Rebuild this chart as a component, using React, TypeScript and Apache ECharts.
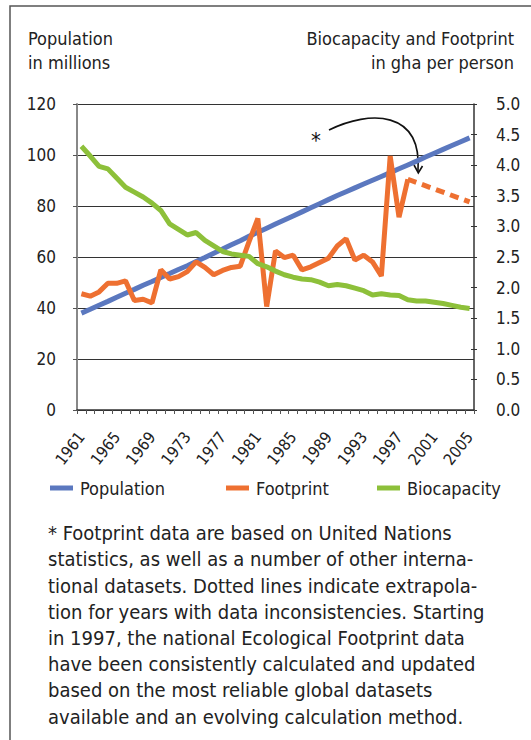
import React, { useEffect, useRef } from "react";
import * as echarts from "echarts";

const years = [
  "1961", "1962", "1963", "1964", "1965", "1966", "1967", "1968", "1969", "1970",
  "1971", "1972", "1973", "1974", "1975", "1976", "1977", "1978", "1979", "1980",
  "1981", "1982", "1983", "1984", "1985", "1986", "1987", "1988", "1989", "1990",
  "1991", "1992", "1993", "1994", "1995", "1996", "1997", "1998", "1999", "2000",
  "2001", "2002", "2003", "2004", "2005",
];

// Population in millions (left axis)
const population = [
  38.0, 39.5, 41.1, 42.6, 44.2, 45.8, 47.3, 48.9, 50.4, 52.0,
  53.5, 55.1, 56.6, 58.2, 59.8, 61.5, 63.1, 64.8, 66.4, 68.1,
  69.7, 71.3, 72.9, 74.5, 76.1, 77.7, 79.3, 80.9, 82.5, 84.1,
  85.6, 87.1, 88.6, 90.1, 91.6, 93.1, 94.6, 96.1, 97.6, 99.2,
  100.7, 102.2, 103.7, 105.2, 106.7,
];

// Footprint, gha per person (right axis), 1961-1998
const footprint = [
  1.90, 1.86, 1.93, 2.07, 2.07, 2.11, 1.79, 1.81, 1.75, 2.29,
  2.14, 2.18, 2.26, 2.42, 2.33, 2.21, 2.28, 2.33, 2.35, 2.75,
  3.13, 1.69, 2.60, 2.49, 2.53, 2.29, 2.34, 2.41, 2.48, 2.68,
  2.80, 2.45, 2.53, 2.42, 2.19, 4.15, 3.15, 3.77,
];

// Extrapolated footprint (dotted)
const footprintExtrapYears = ["1998", "2005"];
const footprintExtrapValues = [3.77, 3.40];

// Biocapacity, gha per person (right axis)
const biocapacity = [
  4.31, 4.15, 3.98, 3.94, 3.79, 3.64, 3.56, 3.48, 3.38, 3.26,
  3.04, 2.95, 2.86, 2.90, 2.77, 2.68, 2.59, 2.55, 2.53, 2.51,
  2.39, 2.34, 2.27, 2.21, 2.17, 2.14, 2.13, 2.09, 2.03, 2.05,
  2.03, 1.99, 1.95, 1.88, 1.90, 1.88, 1.87, 1.80, 1.78, 1.78,
  1.76, 1.74, 1.71, 1.68, 1.66,
];

const leftTicks = { min: 0, max: 120, interval: 20 };
const rightTicks = { min: 0, max: 5, interval: 0.5 };

const footnote =
  "* Footprint data are based on United Nations\n" +
  "statistics, as well as a number of other interna-\n" +
  "tional datasets. Dotted lines indicate extrapola-\n" +
  "tion for years with data inconsistencies. Starting\n" +
  "in 1997, the national Ecological Footprint data\n" +
  "have been consistently calculated and updated\n" +
  "based on the most reliable global datasets\n" +
  "available and an evolving calculation method.";

const FONT = "'DejaVu Sans Condensed', 'DejaVu Sans', sans-serif";
const BLUE = "#5B78BF";
const ORANGE = "#EE7031";
const GREEN = "#8DC03A";
const TEXT = "#222";

export default function App() {
  const ref = useRef<HTMLDivElement>(null);

  useEffect(() => {
    if (!ref.current) return;
    const chart = echarts.init(ref.current, undefined, { renderer: "svg" });

    const footprintData = years.map((_, i) => (i < footprint.length ? footprint[i] : null));
    const extrapData = years.map((y) => {
      const k = footprintExtrapYears.indexOf(y);
      return k >= 0 ? footprintExtrapValues[k] : null;
    });

    const legendBase = {
      top: 479,
      padding: 0,
      icon: "rect",
      itemWidth: 23,
      itemHeight: 5,
      itemGap: 0,
      textStyle: { fontSize: 18, color: TEXT, fontFamily: FONT, padding: [0, 0, 0, 2] },
      selectedMode: false,
    };

    chart.setOption({
      animation: false,
      backgroundColor: "#fff",
      textStyle: { fontFamily: FONT },
      grid: { left: 77, right: 57, top: 104, bottom: 330, containLabel: false },
      xAxis: {
        type: "category",
        data: years,
        boundaryGap: true,
        axisLine: { lineStyle: { color: "#333", width: 1.5 } },
        axisTick: { show: true, interval: 0, length: 4, lineStyle: { color: "#555" } },
        axisLabel: {
          interval: 3,
          rotate: 52,
          fontSize: 16,
          color: TEXT,
          margin: 24,
          fontFamily: FONT,
        },
        splitLine: { show: false },
      },
      yAxis: [
        {
          type: "value",
          ...leftTicks,
          position: "left",
          axisLine: { show: true, lineStyle: { color: "#888", width: 2 } },
          axisTick: { show: true, length: 4, lineStyle: { color: "#555" } },
          axisLabel: { fontSize: 17, color: TEXT, margin: 21, fontFamily: FONT },
          splitLine: { show: true, lineStyle: { color: "#333", width: 1.2 } },
        },
        {
          type: "value",
          ...rightTicks,
          position: "right",
          axisLine: { show: true, lineStyle: { color: "#333", width: 1.5 } },
          axisTick: { show: true, length: 3, lineStyle: { color: "#333" } },
          axisLabel: {
            fontSize: 17,
            color: TEXT,
            margin: 22,
            fontFamily: FONT,
            formatter: (v: number) => v.toFixed(1),
          },
          splitLine: { show: false },
        },
        {
          type: "value",
          ...rightTicks,
          position: "right",
          axisLine: { show: false },
          axisTick: { show: true, inside: true, length: 3, lineStyle: { color: "#333" } },
          axisLabel: { show: false },
          splitLine: { show: false },
        },
      ],
      legend: [
        { ...legendBase, left: 50, data: ["Population"] },
        { ...legendBase, left: 226, data: ["Footprint"] },
        { ...legendBase, left: 377, data: ["Biocapacity"] },
      ],
      series: [
        {
          name: "Population",
          type: "line",
          yAxisIndex: 0,
          data: population,
          symbol: "none",
          lineStyle: { color: BLUE, width: 5 },
          itemStyle: { color: BLUE },
          z: 2,
        },
        {
          name: "Footprint",
          type: "line",
          yAxisIndex: 1,
          data: footprintData,
          symbol: "none",
          lineStyle: { color: ORANGE, width: 5 },
          itemStyle: { color: ORANGE },
          z: 3,
        },
        {
          name: "Footprint (extrapolated)",
          type: "line",
          yAxisIndex: 1,
          data: extrapData,
          connectNulls: true,
          symbol: "none",
          lineStyle: { color: ORANGE, width: 5, type: [9, 6] },
          itemStyle: { color: ORANGE },
          z: 3,
        },
        {
          name: "Biocapacity",
          type: "line",
          yAxisIndex: 1,
          data: biocapacity,
          symbol: "none",
          lineStyle: { color: GREEN, width: 5 },
          itemStyle: { color: GREEN },
          z: 4,
        },
      ],
      graphic: [
        {
          type: "rect",
          silent: true,
          z: -10,
          shape: { x: 10, y: 6, width: 600, height: 800 },
          style: { fill: "none", stroke: "#555", lineWidth: 1.5 },
        },
        {
          type: "text",
          style: {
            text: "Population\nin millions",
            x: 28,
            y: 26,
            fontSize: 18,
            lineHeight: 24,
            fontFamily: FONT,
            fill: TEXT,
            align: "left",
            textAlign: "left",
            verticalAlign: "top",
            textVerticalAlign: "top",
          },
        },
        {
          type: "text",
          style: {
            text: "Biocapacity and Footprint\nin gha per person",
            x: 514,
            y: 26,
            fontSize: 18,
            lineHeight: 24,
            fontFamily: FONT,
            fill: TEXT,
            align: "right",
            textAlign: "right",
            verticalAlign: "top",
            textVerticalAlign: "top",
          },
        },
        {
          type: "text",
          style: {
            text: "*",
            x: 316,
            y: 140,
            fontSize: 22,
            fontFamily: FONT,
            fill: "#111",
            align: "center",
            textAlign: "center",
            verticalAlign: "middle",
            textVerticalAlign: "middle",
          },
        },
        {
          type: "bezierCurve",
          shape: { x1: 329, y1: 130, cpx1: 370, cpy1: 110, cpx2: 422, cpy2: 110, x2: 418, y2: 171 },
          style: { stroke: "#111", lineWidth: 1.6, fill: "none" },
        },
        {
          type: "polyline",
          shape: { points: [[414, 165], [418.3, 173], [422.5, 166]] },
          style: { stroke: "#111", lineWidth: 1.6, fill: "none" },
        },
        {
          type: "text",
          style: {
            text: footnote,
            x: 48,
            y: 520,
            fontSize: 20,
            lineHeight: 26.2,
            fontFamily: FONT,
            fill: TEXT,
            align: "left",
            textAlign: "left",
            verticalAlign: "top",
            textVerticalAlign: "top",
          },
        },
      ],
    });

    return () => chart.dispose();
  }, []);

  return (
    <div
      ref={ref}
      style={{ position: "fixed", left: 0, top: 0, width: 531, height: 740, background: "#fff" }}
    />
  );
}
